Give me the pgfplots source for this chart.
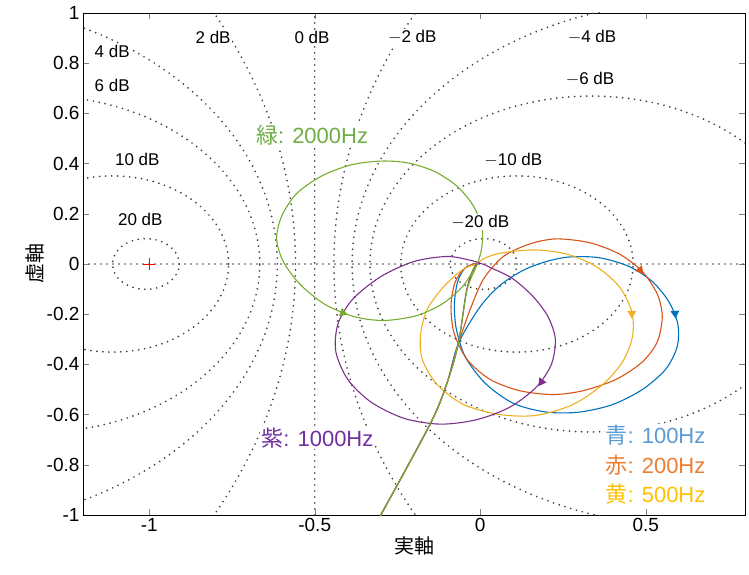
\documentclass[border=0pt]{standalone}
\usepackage{pgfplots}
\pgfplotsset{compat=1.18}
\usepackage{fontspec}
\setmainfont{Liberation Sans}
\newfontfamily\cjk{Noto Sans CJK JP}
\definecolor{cB}{HTML}{0072BD}
\definecolor{cR}{HTML}{D95319}
\definecolor{cY}{HTML}{EDB120}
\definecolor{cP}{HTML}{7E2F8E}
\definecolor{cG}{HTML}{77AC30}
\definecolor{tB}{HTML}{5B9BD5}
\definecolor{tR}{HTML}{ED7D31}
\definecolor{tY}{HTML}{FFC000}
\definecolor{tP}{HTML}{7030A0}
\definecolor{tG}{HTML}{70AD47}
\tikzset{mc/.style={line width=1.9pt, dash pattern=on 0pt off 6pt, line cap=round, black!75}}
\begin{document}
\begin{tikzpicture}
\begin{axis}[scale only axis, width=662pt, height=502pt,
  xmin=-1.2, xmax=0.8, ymin=-1, ymax=1,
  xtick={-1,-0.5,0,0.5}, ytick={-1,-0.8,...,1},
  yticklabel style={/pgf/number format/fixed},
  tick align=inside, major tick length=6pt,
  tick label style={font=\fontsize{19}{22}\selectfont},
  /pgf/number format/assume math mode=true,
  xlabel={\cjk\fontsize{20}{22}\selectfont 実軸},
  ylabel={\cjk\fontsize{20}{22}\selectfont 虚軸},
  xlabel style={yshift=2pt}, ylabel style={yshift=-4pt},
  axis line style={black}, clip=true,
  every axis plot/.append style={line width=1.1pt}]
\coordinate (sw) at (rel axis cs:0,0);
\coordinate (ne) at (rel axis cs:1,1);
% M-circles
\draw[mc] (axis cs:-1.0101,0) ellipse [x radius=0.101, y radius=0.101];
\draw[mc] (axis cs:-1.111,0) ellipse [x radius=0.351, y radius=0.351];
\draw[mc] (axis cs:-1.336,0) ellipse [x radius=0.670, y radius=0.670];
\draw[mc] (axis cs:-1.661,0) ellipse [x radius=1.048, y radius=1.048];
\draw[mc] (axis cs:-2.71,0) ellipse [x radius=2.152, y radius=2.152];
\draw[mc] (axis cs:1.71,0) ellipse [x radius=2.152, y radius=2.152];
\draw[mc] (axis cs:0.661,0) ellipse [x radius=1.048, y radius=1.048];
\draw[mc] (axis cs:0.336,0) ellipse [x radius=0.669, y radius=0.669];
\draw[mc] (axis cs:0.111,0) ellipse [x radius=0.351, y radius=0.351];
\draw[mc] (axis cs:0.0101,0) ellipse [x radius=0.101, y radius=0.101];
\draw[mc] (axis cs:-0.5,-1) -- (axis cs:-0.5,1);
\draw[mc] (axis cs:-1.2,0) -- (axis cs:0.8,0);
\addplot[red, only marks, mark=+, mark size=6pt, line width=0.9pt] coordinates {(-1,0)};
% curves
\addplot[cB, smooth] coordinates {(-0.302,-1.004)(-0.151,-0.637)(-0.101,-0.477)(-0.066,-0.317)(0.0,-0.17)(0.06,-0.085)(0.13,-0.025)(0.20,0.01)(0.27,0.028)(0.36,0.025)(0.45,-0.01)(0.52,-0.07)(0.57,-0.15)(0.597,-0.24)(0.595,-0.33)(0.56,-0.42)(0.49,-0.50)(0.40,-0.56)(0.30,-0.59)(0.20,-0.59)(0.10,-0.555)(0.015,-0.475)(-0.045,-0.37)(-0.072,-0.26)(-0.078,-0.16)(-0.068,-0.07)(-0.045,-0.015)(-0.01,0.003)};
\addplot[cR, smooth] coordinates {(-0.302,-1.004)(-0.151,-0.637)(-0.101,-0.477)(-0.066,-0.317)(-0.03,-0.18)(0.01,-0.06)(0.07,0.03)(0.15,0.08)(0.23,0.10)(0.33,0.085)(0.42,0.04)(0.49,-0.03)(0.535,-0.12)(0.55,-0.21)(0.535,-0.31)(0.49,-0.39)(0.41,-0.46)(0.31,-0.505)(0.22,-0.52)(0.12,-0.505)(0.03,-0.46)(-0.04,-0.38)(-0.08,-0.27)(-0.088,-0.16)(-0.075,-0.07)(-0.045,-0.015)(-0.01,0.003)};
\addplot[cY, smooth] coordinates {(-0.302,-1.004)(-0.151,-0.637)(-0.101,-0.477)(-0.066,-0.317)(-0.04,-0.10)(-0.01,0.0)(0.05,0.04)(0.16,0.056)(0.26,0.04)(0.35,-0.01)(0.42,-0.09)(0.458,-0.19)(0.46,-0.29)(0.43,-0.39)(0.37,-0.48)(0.28,-0.56)(0.17,-0.603)(0.06,-0.60)(-0.05,-0.56)(-0.13,-0.48)(-0.175,-0.38)(-0.18,-0.28)(-0.16,-0.18)(-0.11,-0.09)(-0.05,-0.02)(0,0.003)};
\addplot[cP, smooth] coordinates {(-0.302,-1.004)(-0.151,-0.637)(-0.101,-0.477)(-0.066,-0.317)(-0.04,-0.10)(-0.01,0.0)(0.04,-0.02)(0.10,-0.06)(0.16,-0.13)(0.205,-0.21)(0.227,-0.30)(0.215,-0.40)(0.17,-0.49)(0.09,-0.57)(-0.01,-0.62)(-0.12,-0.638)(-0.23,-0.615)(-0.33,-0.55)(-0.40,-0.46)(-0.436,-0.35)(-0.43,-0.24)(-0.385,-0.14)(-0.30,-0.05)(-0.20,0.01)(-0.10,0.03)(-0.03,0.015)(0,0.003)};
\addplot[cG, smooth] coordinates {(-0.302,-1.004)(-0.151,-0.637)(-0.101,-0.477)(-0.066,-0.317)(-0.040,-0.104)(-0.010,-0.004)(0.004,0.06)(0.006,0.14)(-0.02,0.23)(-0.07,0.31)(-0.14,0.37)(-0.22,0.403)(-0.30,0.41)(-0.39,0.395)(-0.48,0.35)(-0.555,0.28)(-0.60,0.19)(-0.615,0.10)(-0.595,0.01)(-0.545,-0.08)(-0.47,-0.16)(-0.38,-0.21)(-0.29,-0.225)(-0.19,-0.205)(-0.11,-0.155)(-0.05,-0.085)(-0.015,-0.01)};
% arrows
\addplot[cB, only marks, mark=triangle*, mark size=4pt, mark options={rotate=185}] coordinates {(0.589,-0.197)};
\addplot[cR, only marks, mark=triangle*, mark size=4pt, mark options={rotate=-140}] coordinates {(0.483,-0.024)};
\addplot[cY, only marks, mark=triangle*, mark size=4pt, mark options={rotate=180}] coordinates {(0.458,-0.197)};
\addplot[cP, only marks, mark=triangle*, mark size=4pt, mark options={rotate=145}] coordinates {(0.185,-0.47)};
\addplot[cG, only marks, mark=triangle*, mark size=4pt, mark options={rotate=-110}] coordinates {(-0.415,-0.195)};
% dB labels
\begin{scope}[every node/.style={fill=white, inner sep=1pt, font=\fontsize{17}{19}\selectfont}]
\node at (axis cs:-1.112,0.848) {4 dB};
\node at (axis cs:-1.112,0.712) {6 dB};
\node at (axis cs:-0.807,0.904) {2 dB};
\node at (axis cs:-0.508,0.904) {0 dB};
\node at (axis cs:-0.205,0.904) {$-$2 dB};
\node at (axis cs:0.338,0.904) {$-$4 dB};
\node at (axis cs:0.332,0.736) {$-$6 dB};
\node at (axis cs:-1.036,0.416) {10 dB};
\node at (axis cs:0.10,0.416) {$-$10 dB};
\node at (axis cs:-1.027,0.176) {20 dB};
\node at (axis cs:0.0,0.168) {$-$20 dB};
\end{scope}
\begin{scope}[every node/.style={inner sep=1pt, font=\fontsize{22}{24}\selectfont}]
\node[text=tG, fill=white] at (axis cs:-0.508,0.512) {{\cjk 緑}: 2000Hz};
\node[text=tP, fill=white] at (axis cs:-0.492,-0.692) {{\cjk 紫}: 1000Hz};
\node[text=tB, anchor=west, fill=white] at (axis cs:0.375,-0.68) {{\cjk 青}: 100Hz};
\node[text=tR, anchor=west] at (axis cs:0.375,-0.80) {{\cjk 赤}: 200Hz};
\node[text=tY, anchor=west] at (axis cs:0.375,-0.918) {{\cjk 黄}: 500Hz};
\end{scope}
\end{axis}
\pgfresetboundingbox
\path ([shift={(-83pt,-60pt)}]sw) rectangle ([shift={(4pt,13pt)}]ne);
\end{tikzpicture}
\end{document}
